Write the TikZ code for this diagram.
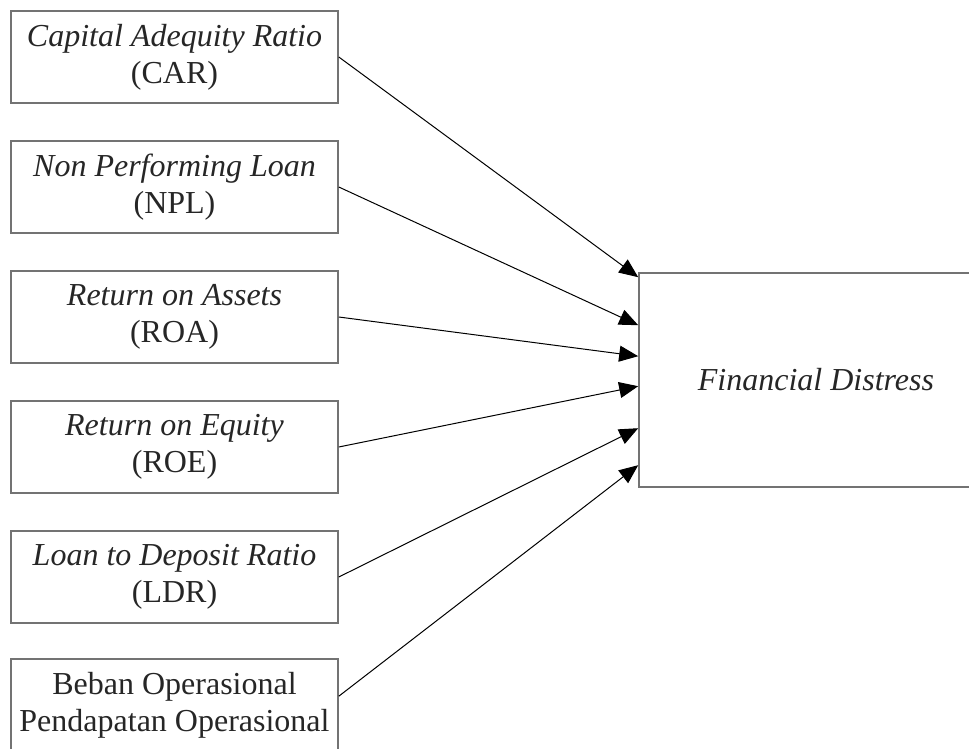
\documentclass[tikz,border=0pt]{standalone}
\usepackage{fontspec}
\setmainfont{Liberation Serif}
\usetikzlibrary{arrows.meta}
\tikzset{
  varbox/.style={draw=black!55, line width=1.6pt, minimum width=327pt, minimum height=92pt,
    align=center, font=\fontsize{32}{37}\selectfont, text=black!85, inner sep=0pt},
  link/.style={-{Triangle[length=19pt,width=16pt]}, line width=1pt}
}
\begin{document}
\begin{tikzpicture}[x=1pt,y=1pt]
\useasboundingbox (0,0) rectangle (969,-749);

\node[varbox] (car) at (174.5,-57) {\textit{Capital Adequity Ratio}\\(CAR)};
\node[varbox] (npl) at (174.5,-187) {\textit{Non Performing Loan}\\(NPL)};
\node[varbox] (roa) at (174.5,-317) {\textit{Return on Assets}\\(ROA)};
\node[varbox] (roe) at (174.5,-447) {\textit{Return on Equity}\\(ROE)};
\node[varbox] (ldr) at (174.5,-577) {\textit{Loan to Deposit Ratio}\\(LDR)};
\node[varbox] (bopo) at (174.5,-705) {Beban Operasional\\Pendapatan Operasional};

\node[varbox, minimum width=354pt, minimum height=214pt] (fd) at (816,-380) {\textit{Financial Distress}};

\draw[link] (car.east) -- ([yshift=-5pt]fd.north west);
\draw[link] (npl.east) -- ([yshift=-53pt]fd.north west);
\draw[link] (roa.east) -- ([yshift=-84pt]fd.north west);
\draw[link] (roe.east) -- ([yshift=-114pt]fd.north west);
\draw[link] (ldr.east) -- ([yshift=-156pt]fd.north west);
\draw[link] ([yshift=-38pt]bopo.north east) -- ([yshift=-193pt]fd.north west);
\end{tikzpicture}
\end{document}
